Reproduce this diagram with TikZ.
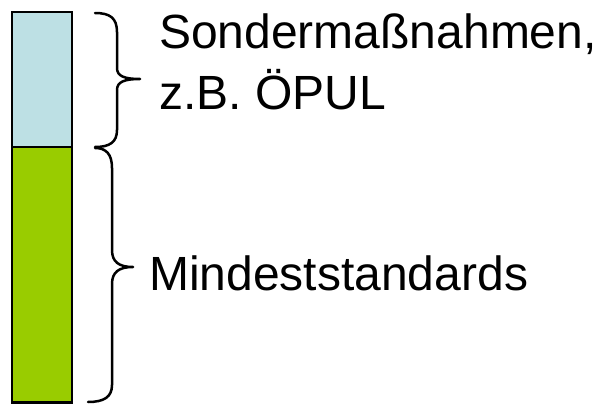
\documentclass[tikz,border=0pt]{standalone}
\usepackage{fontspec}
\setmainfont{Liberation Sans}
\definecolor{barblue}{RGB}{189,224,228}
\definecolor{bargreen}{RGB}{153,204,0}
\begin{document}
\begin{tikzpicture}[x=1pt,y=-1pt,
  bar/.style={draw=black,line width=2.5pt},
  brace/.style={draw=black,line width=2.5pt,line cap=round,line join=round},
  lbl/.style={anchor=base west,inner sep=0pt,font=\fontsize{48}{56}\selectfont}]
\useasboundingbox (0,0) rectangle (598,404);
\path[bar,fill=barblue] (12,12) rectangle (72,147);
\path[bar,fill=bargreen] (12,147) rectangle (72,402.5);
% upper brace
\path[brace] (95,13) .. controls (110,13) and (117,18) .. (117,32) -- (117,68)
  .. controls (117,76) and (124,79) .. (140,79)
  .. controls (124,79) and (117,82) .. (117,90) -- (117,130)
  .. controls (117,142) and (110,147) .. (95,147);
% lower brace
\path[brace] (95,148) .. controls (106,148) and (112,154) .. (112,168) -- (112,250)
  .. controls (112,262) and (119,267) .. (133,267)
  .. controls (119,267) and (112,272) .. (112,284) -- (112,385)
  .. controls (112,397) and (104,402) .. (88,402);
\node[lbl] (sm1) at (159,49) {Sondermaßnahmen,};
\node[lbl] (sm2) at (159,110) {z.B. ÖPUL};
\node[lbl] (ms) at (149,290) {Mindeststandards};
\end{tikzpicture}
\end{document}
